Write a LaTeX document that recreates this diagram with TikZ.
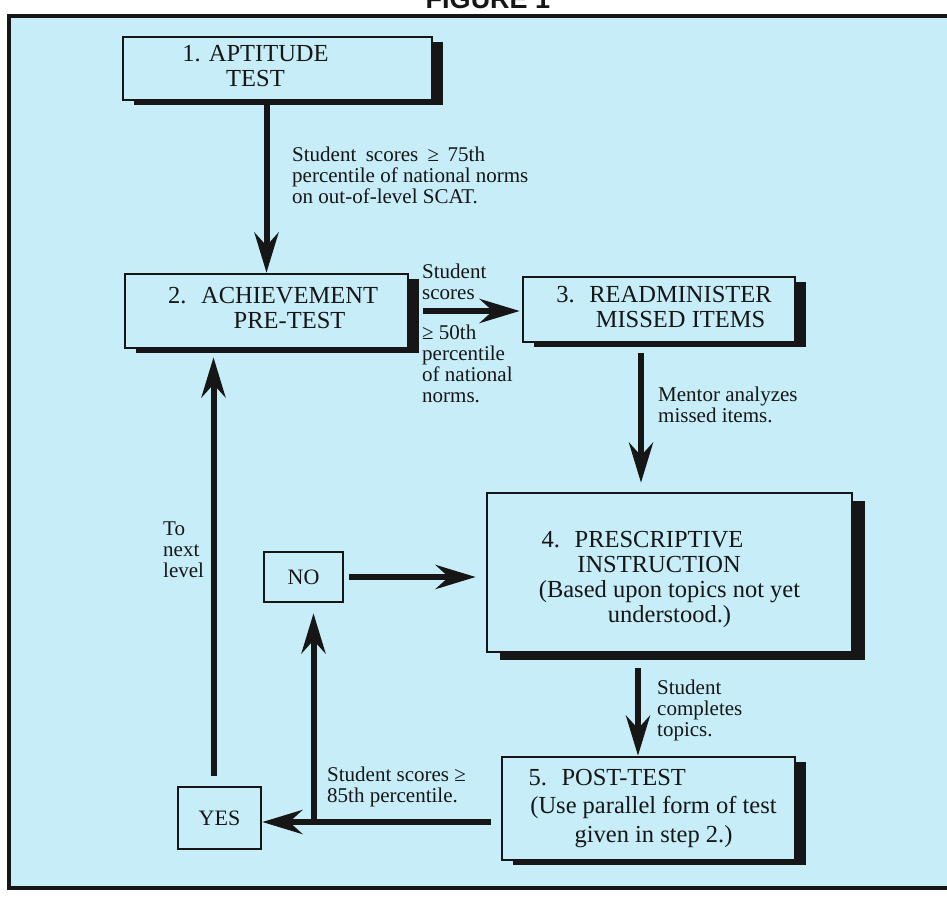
\documentclass[tikz,border=0pt]{standalone}
\usepackage{fontspec}
\setmainfont{Liberation Serif}
\setsansfont{Liberation Sans}
\usepackage{tikz}
\usetikzlibrary{arrows.meta,positioning}
\definecolor{sheet}{RGB}{198,237,248}
\definecolor{ink}{RGB}{22,22,22}
\newcommand{\stepno}[2]{#1\hspace{0.6em}\begin{tabular}[t]{@{}c@{}}#2\end{tabular}}

\begin{document}
\begin{tikzpicture}[x=1pt,y=-1pt,
        stage/.style={draw=ink,line width=2.6pt,fill=sheet,inner sep=0pt,align=center,text=ink,
            font=\fontsize{24.5}{25}\selectfont,
            preaction={fill=ink,transform canvas={shift={(#1)}}}},
        stage/.default={11pt,-5pt},
        answer/.style={draw=ink,line width=2.6pt,fill=sheet,inner sep=0pt,text=ink,
            font=\fontsize{22}{24}\selectfont},
        note/.style={anchor=north west,inner sep=0pt,align=left,text=ink,
            font=\fontsize{21}{21}\selectfont},
        flow/.style={draw=ink,line width=6pt,-{Stealth[length=40pt,width=24pt,inset=13pt]}}]
    \useasboundingbox (0,0) rectangle (947,897);
    \clip (0,0) rectangle (947,897);
    \fill[white] (0,0) rectangle (947,897);
    \node[anchor=base,text=ink,font=\sffamily\bfseries\fontsize{27}{27}\selectfont] (title) at (488,8) {FIGURE 1};
    \draw[draw=ink,line width=4pt,fill=sheet] (9,16) rectangle (965,888);

    % steps
    \node[stage,minimum width=309pt,minimum height=63pt] (s_1) at (277.5,68.5)
        {\begin{tabular}{@{}c@{}}1. APTITUDE\\TEST\end{tabular}\hspace*{44pt}};
    \node[stage,minimum width=283pt,minimum height=74pt] (s_2) at (266.5,311) {\hspace*{13pt}\stepno{2.}{ACHIEVEMENT\\PRE-TEST}};
    \node[stage,minimum width=272pt,minimum height=65pt] (s_3) at (659,309.5) {\hspace*{10pt}\stepno{3.}{READMINISTER\\MISSED ITEMS}};
    \node[stage={13pt,-8pt},minimum width=365pt,minimum height=159pt] (s_4) at (669.5,572.5)
        {\rule{0pt}{30pt}\stepno{4.}{PRESCRIPTIVE\\INSTRUCTION}\hspace*{54pt}\\(Based upon topics not yet\\understood.)};
    \node[stage,minimum width=293pt,minimum height=103pt,font=\fontsize{24.5}{28.5}\selectfont] (s_5) at (648.5,808.5)
        {\hspace*{10pt}\makebox[250pt][l]{5.\hspace{0.6em}POST-TEST}\\\hspace*{10pt}(Use parallel form of test\\\hspace*{10pt}given in step 2.)};
    \node[answer,minimum width=79pt,minimum height=50pt] (no) at (303.5,577) {NO};
    \node[answer,minimum width=83pt,minimum height=62pt] (yes) at (219.5,818) {YES};

    % connectors
    \coordinate (r_3) at ([xshift=-18pt]s_3.south);
    \coordinate (r_4) at ([xshift=-31.5pt]s_4.south);
    \coordinate (split) at ([yshift=-13.5pt]s_5.west);
    \coordinate (nofoot) at ([xshift=10pt]no.south);
    \coordinate (up) at ([xshift=-6pt]yes.north);
    \draw[flow] (s_2.north |- s_1.south) -- (s_2.north);
    \draw[flow,shorten <=14pt,shorten >=2pt] (s_2.east) -- (s_2.east -| s_3.west);
    \draw[flow,shorten <=10pt,shorten >=9pt] (r_3) -- (r_3 |- s_4.north);
    \draw[flow,shorten <=15pt] (r_4) -- (r_4 |- s_5.north);
    \draw[flow,shorten <=5pt,shorten >=10pt] (no.east) -- (no.east -| s_4.west);
    \draw[flow,shorten <=10pt] (split) -- (split -| yes.east);
    \draw[flow,shorten >=10pt] (nofoot |- split) -- (nofoot);
    \draw[flow,shorten <=10pt,shorten >=8pt] (up) -- (up |- s_2.south);

    % labels
    \node[note] (n_1) at (292,147) {Student\hspace{0.45em}scores\hspace{0.45em}≥\hspace{0.4em}75th\\percentile of national norms\\on out-of-level SCAT.};
    \node[note] (n_2) at (422,264) {Student\\scores};
    \node[note] (n_3) at (422,325) {≥ 50th\\percentile\\of national\\norms.};
    \node[note] (n_4) at (658,387) {Mentor analyzes\\missed items.};
    \node[note] (n_5) at (657,680) {Student\\completes\\topics.};
    \node[note] (n_6) at (163,522) {To\\next\\level};
    \node[note] (n_7) at (327,767) {Student scores ≥\\85th percentile.};
\end{tikzpicture}
\end{document}
